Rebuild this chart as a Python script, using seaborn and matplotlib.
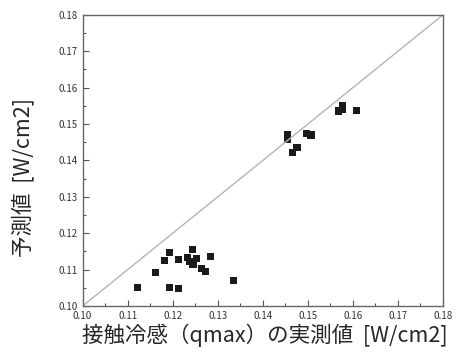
import matplotlib
matplotlib.use("Agg")
import matplotlib.pyplot as plt
import seaborn as sns
import pandas as pd
from matplotlib.ticker import MultipleLocator

# measured qmax vs predicted values
measured = [0.1122, 0.1162, 0.1182, 0.1192, 0.1192, 0.1212, 0.1212, 0.1233,
            0.1237, 0.1243, 0.1245, 0.1252, 0.1263, 0.1273, 0.1283, 0.1334,
            0.1455, 0.1455, 0.1466, 0.1476, 0.1498, 0.1507, 0.1568, 0.1578,
            0.1578, 0.1608]
predicted = [0.1051, 0.1092, 0.1124, 0.1148, 0.1050, 0.1129, 0.1047, 0.1133,
             0.1122, 0.1156, 0.1115, 0.1131, 0.1102, 0.1096, 0.1135, 0.1070,
             0.1472, 0.1459, 0.1421, 0.1435, 0.1473, 0.1470, 0.1536, 0.1552,
             0.1541, 0.1537]
axis_range = [0.10, 0.18]

df = pd.DataFrame({"measured": measured, "predicted": predicted})

sns.set_style("white")
plt.rcParams['font.family'] = ['Noto Sans CJK JP', 'DejaVu Sans']

fig = plt.figure(figsize=(4.59, 3.55), dpi=100)
ax = fig.add_axes([0.18, 0.138, 0.785, 0.82])

# y = x reference line
sns.lineplot(x=axis_range, y=axis_range, ax=ax, color="#b4b4b4", linewidth=1.0)
sns.scatterplot(data=df, x="measured", y="predicted", ax=ax, marker="s",
                s=26, color="#1a1a1a", edgecolor="none")

ax.set_xlim(axis_range)
ax.set_ylim(axis_range)
ax.xaxis.set_major_locator(MultipleLocator(0.01))
ax.yaxis.set_major_locator(MultipleLocator(0.01))
ax.xaxis.set_minor_locator(MultipleLocator(0.005))
ax.yaxis.set_minor_locator(MultipleLocator(0.005))
ax.xaxis.set_major_formatter(lambda v, p: f"{v:.2f}")
ax.yaxis.set_major_formatter(lambda v, p: f"{v:.2f}")
ax.tick_params(which="both", direction="in", colors="#555555", labelcolor="#333333",
               labelsize=7, bottom=True, left=True, top=False, right=False)
ax.tick_params(which="major", length=4, width=0.8)
ax.tick_params(which="minor", length=2, width=0.8)

for side in ax.spines.values():
    side.set_color("#666666")
    side.set_linewidth(1.0)

ax.set_xlabel("接触冷感（qmax）の実測値  [W/cm2]", fontsize=15.5)
ax.set_ylabel("予測値  [W/cm2]", fontsize=15.5)
ax.xaxis.set_label_coords(0.505, -0.06)
ax.yaxis.set_label_coords(-0.135, 0.44)

fig.savefig("out.png", dpi=100)
